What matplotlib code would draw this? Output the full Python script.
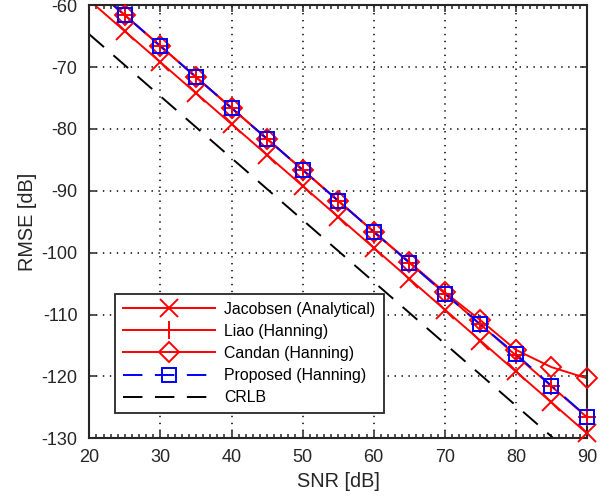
import matplotlib
matplotlib.use("Agg")
import matplotlib.pyplot as plt
from matplotlib.lines import Line2D
from matplotlib.ticker import MultipleLocator

plt.rcParams['font.family'] = ['Liberation Sans', 'DejaVu Sans']
plt.rcParams['lines.scale_dashes'] = False
plt.rcParams['axes.unicode_minus'] = False

# SNR grid (dB)
snr = [20, 25, 30, 35, 40, 45, 50, 55, 60, 65, 70, 75, 80, 85, 90]

# RMSE curves (dB)
jacobsen = [-59.2, -64.2, -69.2, -74.2, -79.2, -84.2, -89.2, -94.2, -99.2,
            -104.2, -109.2, -114.2, -119.2, -124.2, -129.2]
liao = [-56.6, -61.6, -66.6, -71.6, -76.6, -81.6, -86.6, -91.6, -96.6,
        -101.6, -106.6, -111.6, -116.6, -121.6, -126.6]
candan = [-56.6, -61.6, -66.6, -71.6, -76.6, -81.6, -86.6, -91.6, -96.6,
          -101.5, -106.4, -110.9, -115.7, -118.5, -120.3]
proposed = [-56.6, -61.6, -66.6, -71.6, -76.6, -81.6, -86.6, -91.6, -96.6,
            -101.6, -106.6, -111.6, -116.4, -121.5, -126.5]
crlb = [-64.7, -69.7, -74.7, -79.7, -84.7, -89.7, -94.7, -99.7, -104.7,
        -109.7, -114.7, -119.7, -124.7, -129.7, -134.7]

txt = '#262626'
dash = (0, (14, 9))
fig = plt.figure(figsize=(6.06, 4.98), dpi=100)
ax = fig.add_axes([0.1474, 0.1199, 0.8212, 0.8695])

series = [
    (jacobsen, 'red', '-', 'x', 13, 'red', 'Jacobsen (Analytical)'),
    (liao, 'red', '-', '+', 13, 'red', 'Liao (Hanning)'),
    (candan, 'red', '-', 'D', 10, 'none', 'Candan (Hanning)'),
    (proposed, 'blue', dash, 's', 9.5, 'none', 'Proposed (Hanning)'),
    (crlb, 'black', dash, None, 0, 'none', 'CRLB'),
]

handles = []
for y, c, ls, mk, ms, mfc, lab in series:
    # line is clipped to the axes, markers (points inside the range) are not
    ax.plot(snr, y, color=c, lw=1.4, ls=ls)
    if mk:
        pts = [(s, v) for s, v in zip(snr, y) if -130 <= v <= -60]
        ax.plot([p[0] for p in pts], [p[1] for p in pts], ls='none',
                marker=mk, ms=ms, mew=1.4, mec=c, mfc=mfc, clip_on=False,
                zorder=3)
    handles.append(Line2D([], [], color=c, lw=1.4, ls=ls, marker=mk,
                          ms=ms, mew=1.4, mfc=mfc, label=lab))

ax.set_xlim(20, 90)
ax.set_ylim(-130, -60)
ax.xaxis.set_major_locator(MultipleLocator(10))
ax.xaxis.set_minor_locator(MultipleLocator(1))
ax.yaxis.set_major_locator(MultipleLocator(10))
ax.grid(True, which='major', color='black', ls=(0, (1, 4)), lw=1.1)
ax.tick_params(which='both', direction='in', top=True, right=True,
               labelsize=13, colors=txt, width=1.1)
ax.tick_params(which='major', length=5)
ax.tick_params(which='minor', length=3)
ax.tick_params(axis='x', pad=8)
ax.tick_params(axis='y', pad=8.5)
ax.tick_params(axis='y', which='minor', left=False, right=False)
for s in ax.spines.values():
    s.set_color(txt)
    s.set_linewidth(1.5)

ax.set_xlabel('SNR [dB]', fontsize=14.3, color=txt, labelpad=4)
ax.set_ylabel('RMSE [dB]', fontsize=14.3, color=txt, labelpad=3)

leg = ax.legend(handles=handles, loc='lower left',
                bbox_to_anchor=(0.052, 0.058), fontsize=11.4, frameon=True,
                fancybox=False, handlelength=5.8, handletextpad=0.6,
                borderpad=0.5, labelspacing=0.45, borderaxespad=0)
leg.get_frame().set_edgecolor(txt)
leg.get_frame().set_linewidth(1.3)
leg.get_frame().set_alpha(1)

fig.savefig('out.png', dpi=100)
